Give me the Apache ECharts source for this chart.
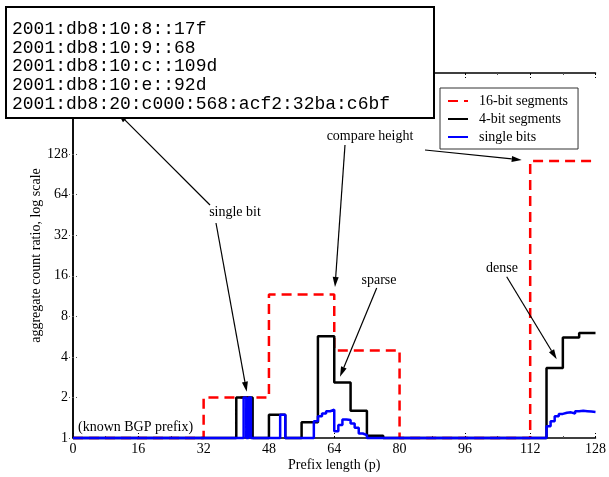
<!DOCTYPE html>
<html><head><meta charset="utf-8">
<script src="https://cdn.jsdelivr.net/npm/echarts/dist/echarts.min.js"></script>
<style>html,body{margin:0;padding:0;background:#fff}#c{width:609px;height:477px}</style>
</head><body><div id="c"></div>
<script>
// ---- data ----
const seriesNames = ['16-bit segments', '4-bit segments', 'single bits'];
const redX = [0, 32, 48, 64, 80, 112, 128];
const redY = [1, 2, 11.6, 4.47, 1, 114, 114];
const blackX = [0, 40, 44, 48, 52, 56, 60, 64, 68, 72, 76, 116, 120, 124, 128];
const blackY = [1, 2, 1, 1.49, 1, 1.31, 5.7, 2.58, 1.59, 1.04, 1, 3.31, 5.58, 6.02, 6.02];
const blueX = [0, 41.8, 42.45, 43.0, 43.6, 50.75, 52, 59, 60, 61, 62, 63, 64, 65, 66, 67, 68, 69, 70, 71, 72,
  116, 117, 118, 119, 120, 121, 122, 123, 124, 125, 126, 127, 128];
const blueY = [1, 2, 1, 2, 1, 1.49, 1, 1.33, 1.45, 1.52, 1.58, 1.62, 1.12, 1.25, 1.37, 1.36, 1.28, 1.19, 1.08, 1.05, 1,
  1.22, 1.33, 1.45, 1.51, 1.54, 1.55, 1.52, 1.58, 1.59, 1.58, 1.57, 1.56, 1.56];
const addressLines = ['2001:db8:10:8::17f', '2001:db8:10:9::68', '2001:db8:10:c::109d', '2001:db8:10:e::92d',
  '2001:db8:20:c000:568:acf2:32ba:c6bf'];
const xTickMax = 128, yMax = 512, yLabelMax = 128;

const zip = (xs, ys) => xs.map((x, i) => [x, ys[i]]);
const SERIF = 'Liberation Serif';

function arrow(x1, y1, x2, y2) {
  const a = Math.atan2(y2 - y1, x2 - x1), L = 10, W = 3;
  const bx = x2 - L * Math.cos(a), by = y2 - L * Math.sin(a);
  const px = -Math.sin(a) * W, py = Math.cos(a) * W;
  return [
    {type: 'line', z: 50, shape: {x1, y1, x2: bx, y2: by}, style: {stroke: '#000', lineWidth: 1.2}},
    {type: 'polygon', z: 50, shape: {points: [[x2, y2], [bx + px, by + py], [bx - px, by - py]]}, style: {fill: '#000'}}
  ];
}
function label(text, x, y) {
  return {type: 'text', z: 50, x, y, style: {text, fill: '#000', font: '14px "' + SERIF + '"', textAlign: 'center', textVerticalAlign: 'middle'}};
}

const graphics = [
  {type: 'rect', z: 100, shape: {x: 6, y: 7, width: 428, height: 111}, style: {fill: '#fff', stroke: '#000', lineWidth: 2}},
  ...addressLines.map((t, i) => ({type: 'text', z: 101, x: 12, y: 29 + i * 18.8,
    style: {text: t, fill: '#000', font: '18px "Liberation Mono"', textVerticalAlign: 'middle'}})),
  label('single bit', 235, 212),
  label('compare height', 370, 136),
  label('sparse', 379, 280),
  label('dense', 502, 268),
  {type: 'text', z: 50, x: 78, y: 427, style: {text: '(known BGP prefix)', fill: '#000', font: '14px "' + SERIF + '"', textVerticalAlign: 'middle'}},
  ...arrow(210, 205, 118, 113),
  ...arrow(216, 223, 246.7, 391.7),
  ...arrow(345, 145, 335, 287),
  ...arrow(425, 150, 521.7, 160),
  ...arrow(376.7, 288, 340, 376.7),
  ...arrow(506.7, 276.7, 556.7, 359.3)
];

const axisLine = {show: true, lineStyle: {color: '#000', width: 1.5}};
const xTick = {show: true, inside: true, length: 5, lineStyle: {color: '#000', type: [2, 2]}};
const xMinor = {show: true, splitNumber: 2, length: 2, lineStyle: {color: '#555'}};
const yTick = {show: true, inside: true, length: 6, lineStyle: {color: '#555', type: [1, 2]}};

const chart = echarts.init(document.getElementById('c'), null, {renderer: 'canvas'});
chart.setOption({
  animation: false,
  backgroundColor: '#fff',
  grid: {left: 73, right: 12, top: 73, bottom: 39},
  legend: {
    data: seriesNames, orient: 'vertical', left: 440, top: 88,
    padding: [6, 10, 5, 7], itemGap: 4, itemWidth: 20, itemHeight: 14,
    borderColor: '#333', borderWidth: 1, backgroundColor: '#fff',
    itemStyle: {opacity: 0},
    textStyle: {color: '#000', fontFamily: SERIF, fontSize: 14, padding: [0, 0, 0, 6]}
  },
  xAxis: [
    {type: 'value', position: 'bottom', min: 0, max: xTickMax, interval: 16,
     axisLine, axisTick: xTick, minorTick: xMinor, splitLine: {show: false},
     axisLabel: {color: '#000', fontFamily: SERIF, fontSize: 14, margin: 4},
     name: 'Prefix length (p)', nameLocation: 'middle', nameGap: 20, nameMoveOverlap: false,
     nameTextStyle: {color: '#000', fontFamily: SERIF, fontSize: 14}},
    {type: 'value', position: 'top', min: 0, max: xTickMax, interval: 16,
     axisLine, axisTick: xTick, minorTick: xMinor, splitLine: {show: false}, axisLabel: {show: false}}
  ],
  yAxis: [
    {type: 'log', logBase: 2, min: 1, max: yMax, interval: 1, position: 'left',
     axisLine, axisTick: yTick, splitLine: {show: false},
     axisLabel: {color: '#000', fontFamily: SERIF, fontSize: 14, margin: 5,
       formatter: v => (v <= yLabelMax ? String(Math.round(v)) : '')},
     name: 'aggregate count ratio, log scale', nameLocation: 'middle', nameGap: 30, nameMoveOverlap: false,
     nameTextStyle: {color: '#000', fontFamily: SERIF, fontSize: 14}},
    {type: 'log', logBase: 2, min: 1, max: yMax, interval: 1, position: 'right',
     axisLine, axisTick: yTick, splitLine: {show: false}, axisLabel: {show: false}}
  ],
  series: [
    {type: 'line', name: seriesNames[0], step: 'end', data: zip(redX, redY), symbol: 'none', clip: false, z: 2,
     lineStyle: {color: '#ff0000', width: 2.5, type: [10, 6]}, itemStyle: {color: '#ff0000'}},
    {type: 'line', name: seriesNames[1], step: 'end', data: zip(blackX, blackY), symbol: 'none', clip: false, z: 3,
     lineStyle: {color: '#000', width: 2.5}, itemStyle: {color: '#000'}},
    {type: 'line', name: seriesNames[2], step: 'end', data: zip(blueX, blueY), symbol: 'none', clip: false, z: 4,
     lineStyle: {color: '#0000ff', width: 2.5}, itemStyle: {color: '#0000ff'}}
  ],
  graphic: graphics
});
</script></body></html>
